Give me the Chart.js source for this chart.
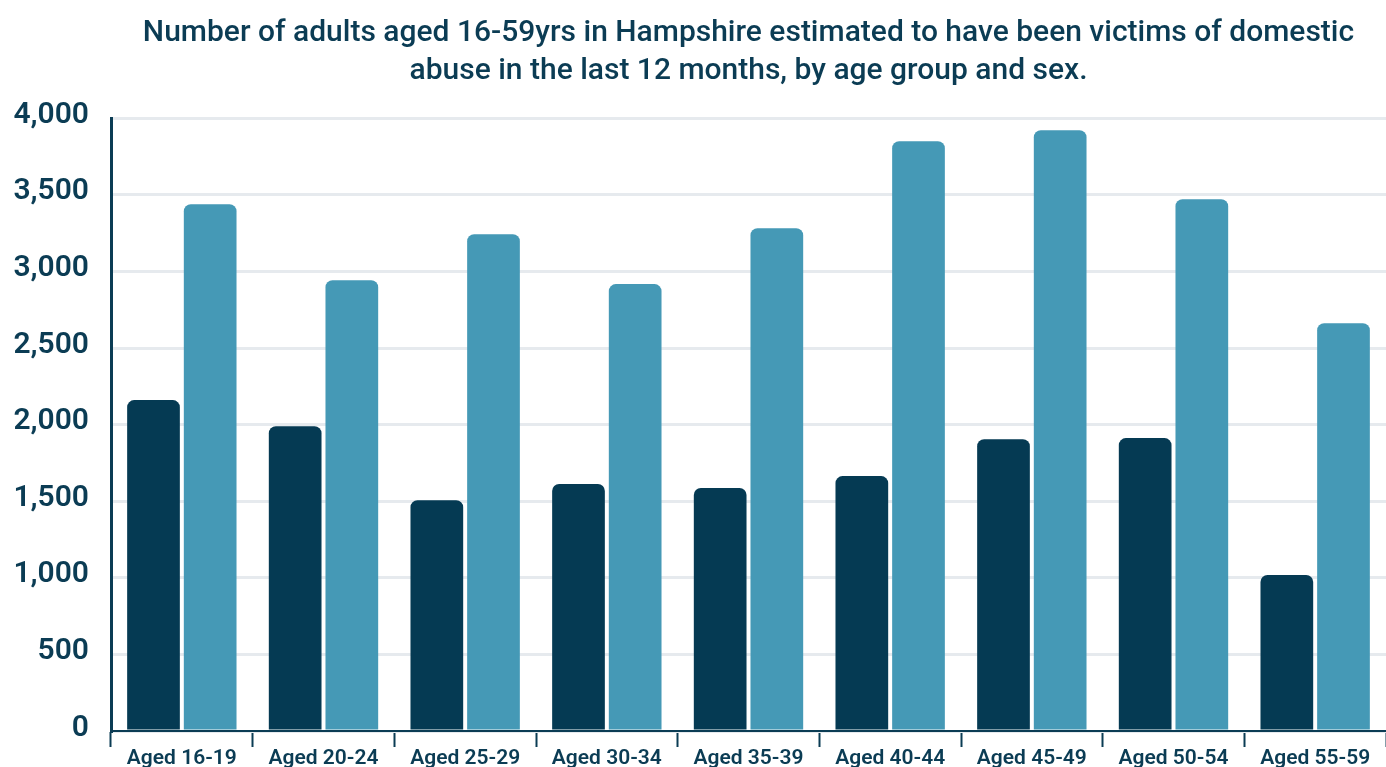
<!DOCTYPE html>
<html>
<head>
<meta charset="utf-8">
<script src="https://cdn.jsdelivr.net/npm/chart.js@4"></script>
<style>
    html, body { margin: 0; padding: 0; background: #ffffff; }
    #wrap { width: 1386px; height: 767px; position: relative; }
</style>
</head>
<body>
<div id="wrap"><canvas id="abuseChart"></canvas></div>
<script>
// Domestic abuse victims by age group and sex (Hampshire, 16-59yrs)

const ageGroups = ['Aged 16-19', 'Aged 20-24', 'Aged 25-29', 'Aged 30-34', 'Aged 35-39',
    'Aged 40-44', 'Aged 45-49', 'Aged 50-54', 'Aged 55-59'];
const maleVictims = [2160, 1990, 1507, 1612, 1586, 1664, 1905, 1912, 1018];
const femaleVictims = [3439, 2943, 3243, 2917, 3282, 3850, 3922, 3471, 2662];
const titleLines = [
    'Number of adults aged 16-59yrs in Hampshire estimated to have been victims of domestic',
    'abuse in the last 12 months, by age group and sex.'
];

const navy = '#053a53';
const teal = '#4599b6';
const inkColor = '#0b3c54';

const barStyle = {
    borderRadius: { topLeft: 7, topRight: 7, bottomLeft: 0, bottomRight: 0 },
    borderSkipped: false,
    categoryPercentage: 0.8,
    barPercentage: 0.93
};

const ctx = document.getElementById('abuseChart').getContext('2d');
const abuseChart = new Chart(ctx, {
    type: 'bar',
    data: {
        labels: ageGroups,
        datasets: [
            Object.assign({ label: 'Male', data: maleVictims, backgroundColor: navy }, barStyle),
            Object.assign({ label: 'Female', data: femaleVictims, backgroundColor: teal }, barStyle)
        ]
    },
    options: {
        responsive: true,
        maintainAspectRatio: false,
        animation: false,
        layout: {
            padding: 0
        },
        scales: {
            x: {
                grid: {
                    offset: true,
                    drawOnChartArea: false,
                    drawTicks: true,
                    tickLength: 16,
                    tickWidth: 2,
                    tickColor: inkColor
                },
                border: {
                    color: inkColor,
                    width: 2
                },
                ticks: {
                    color: inkColor,
                    padding: 1,
                    font: { family: 'Roboto', size: 21, weight: '600', lineHeight: 1.0 }
                },
                afterFit: scale => {
                    // labels run off the bottom edge like in the original
                    scale.height = 36;
                }
            },
            y: {
                min: 0,
                max: 4000,
                ticks: {
                    stepSize: 500,
                    color: inkColor,
                    padding: 22,
                    labelOffset: -3,
                    // small lineHeight so the end labels don't add vertical padding
                    font: { family: 'Roboto', size: 30, weight: '600', lineHeight: 0.6 },
                    callback: value => value.toLocaleString('en-GB')
                },
                grid: {
                    color: '#e6eaee',
                    lineWidth: 3,
                    drawTicks: false
                },
                border: {
                    color: inkColor,
                    width: 3
                },
                afterFit: scale => {
                    scale.width = 111;
                }
            }
        },
        plugins: {
            legend: {
                display: false
            },
            tooltip: {
                enabled: false
            },
            title: {
                display: true,
                fullSize: false,
                text: titleLines,
                color: inkColor,
                font: { family: 'Roboto', size: 30, weight: '500', lineHeight: 1.27 },
                padding: { top: 14, bottom: 28 }
            }
        }
    }
});
</script>
</body>
</html>
